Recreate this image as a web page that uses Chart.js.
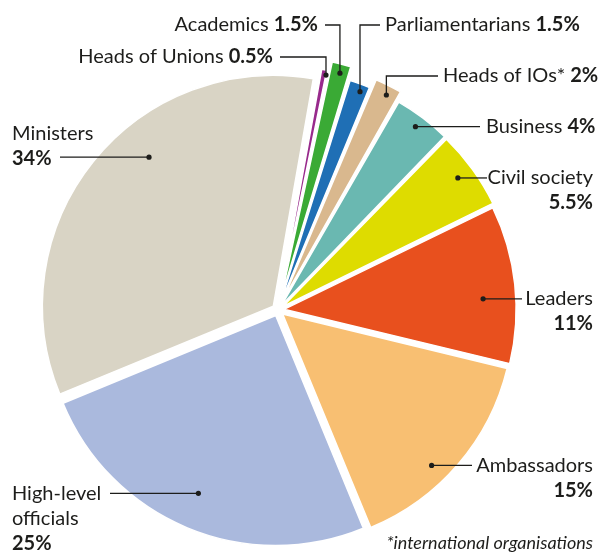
<!DOCTYPE html>
<html>
<head>
<meta charset="utf-8">
<script src="https://cdn.jsdelivr.net/npm/chart.js@4"></script>
<style>
  html, body { margin: 0; padding: 0; background: #fff; }
  #wrap { width: 598px; height: 554px; position: relative; }
</style>
</head>
<body>
<div id="wrap"><canvas id="chart_participants"></canvas></div>
<script>
// Participants by category, clockwise from the top
const categories = ["Heads of Unions", "Academics", "Parliamentarians", "Heads of IOs*", "Business",
    "Civil society", "Leaders", "Ambassadors", "High-level officials", "Ministers"];
const shares = [0.5, 1.5, 1.5, 2, 4, 5.5, 11, 15, 25, 34];

const sliceColors = ["#982a8c", "#3aaa35", "#1f6fb5", "#d9b88e", "#6ab8b1",
    "#dedc00", "#e8501e", "#f8bf72", "#aab9dd", "#d9d4c5"];
// small slices are pulled further out
const sliceOffsets = [30, 50, 22, 43, 24, 24, 24, 24, 24, 24];

const footnote = "*international organisations";

// where each label goes: dot at fraction t of the slice angle and r of the radius,
// lead line either straight across or up to elbowY, then text
const labelLayout = [
    { t: 0.87, r: 1.01, elbowY: 57, lineX: 280, tx: 273, align: "right", inline: true },
    { t: 0.53, r: 1.01, elbowY: 25, lineX: 325, tx: 318, align: "right", inline: true },
    { t: 0.63, r: 0.99, elbowY: 25, lineX: 380, tx: 385, align: "left", inline: true },
    { t: 0.58, r: 1.0, elbowY: 76, lineX: 438, tx: 443, align: "left", inline: true },
    { t: 0.49, r: 0.97, lineX: 480, tx: 486, align: "left", inline: true, dy: 6 },
    { t: 0.48, r: 0.944, lineX: 487, tx: 593, align: "right", dy: 6 },
    { t: 0.58, r: 0.867, lineX: 522, tx: 593, align: "right", dy: 6 },
    { t: 0.59, r: 0.924, lineX: 472, tx: 593, align: "right", dy: 7 },
    { t: 0.51, r: 0.843, lineX: 110, tx: 12, align: "left", dy: 7, split: ["High-level", "officials"] },
    { t: 0.593, r: 0.844, lineX: 60, tx: 12, align: "left", dy: -17 }
];

const FONT = "Lato, 'Open Sans', sans-serif";
const TEXT_COLOR = "#1d1d1b";
const LINE_GAP = 25;

const leaderLabels = {
    id: "leaderLabels",
    afterDatasetsDraw(chart) {
        const ctx = chart.ctx;
        const meta = chart.getDatasetMeta(0);
        ctx.save();
        ctx.strokeStyle = TEXT_COLOR;
        ctx.fillStyle = TEXT_COLOR;
        ctx.lineWidth = 1.3;
        ctx.textBaseline = "alphabetic";

        meta.data.forEach((arc, i) => {
            const lay = labelLayout[i];
            const p = arc.getProps(["x", "y", "startAngle", "endAngle", "outerRadius"], true);
            const mid = (p.startAngle + p.endAngle) / 2;
            const shift = sliceOffsets[i] / 4;
            const a = p.startAngle + (p.endAngle - p.startAngle) * lay.t;
            const dotX = p.x + Math.cos(mid) * shift + Math.cos(a) * p.outerRadius * lay.r;
            const dotY = p.y + Math.sin(mid) * shift + Math.sin(a) * p.outerRadius * lay.r;

            // lead line
            let lineY = dotY;
            ctx.beginPath();
            ctx.moveTo(dotX, dotY);
            if (lay.elbowY !== undefined) {
                lineY = lay.elbowY;
                ctx.lineTo(dotX, lineY);
            }
            ctx.lineTo(lay.lineX, lineY);
            ctx.stroke();

            ctx.beginPath();
            ctx.arc(dotX, dotY, 2.6, 0, Math.PI * 2);
            ctx.fill();

            // text
            const value = shares[i] + "%";
            let base = lineY + (lay.dy !== undefined ? lay.dy : 6);
            const regular = "20px " + FONT;
            const bold = "700 20px " + FONT;

            if (lay.inline) {
                ctx.font = regular;
                const name = categories[i] + " ";
                const w1 = ctx.measureText(name).width;
                ctx.font = bold;
                const w2 = ctx.measureText(value).width;
                const x0 = lay.align === "right" ? lay.tx - w1 - w2 : lay.tx;
                ctx.textAlign = "left";
                ctx.font = regular;
                ctx.fillText(name, x0, base);
                ctx.font = bold;
                ctx.fillText(value, x0 + w1, base);
            } else {
                const lines = lay.split || [categories[i]];
                ctx.textAlign = lay.align;
                ctx.font = regular;
                lines.forEach(l => {
                    ctx.fillText(l, lay.tx, base);
                    base += LINE_GAP;
                });
                ctx.font = bold;
                ctx.fillText(value, lay.tx, base);
            }
        });

        ctx.font = "italic 18px " + FONT;
        ctx.textAlign = "right";
        ctx.fillText(footnote, 593, 549);
        ctx.restore();
    }
};

new Chart(document.getElementById("chart_participants"), {
    type: "pie",
    data: {
        labels: categories,
        datasets: [{
            data: shares,
            backgroundColor: sliceColors,
            borderColor: "#ffffff",
            borderWidth: 1.5,
            offset: sliceOffsets,
            hoverOffset: 0,
            radius: 230,
            clip: false
        }]
    },
    options: {
        responsive: true,
        maintainAspectRatio: false,
        animation: false,
        events: [],
        rotation: 10,
        layout: { padding: { left: 0, right: 42, top: 66, bottom: 0 } },
        plugins: {
            legend: { display: false },
            tooltip: { enabled: false }
        }
    },
    plugins: [leaderLabels]
});
</script>
</body>
</html>
